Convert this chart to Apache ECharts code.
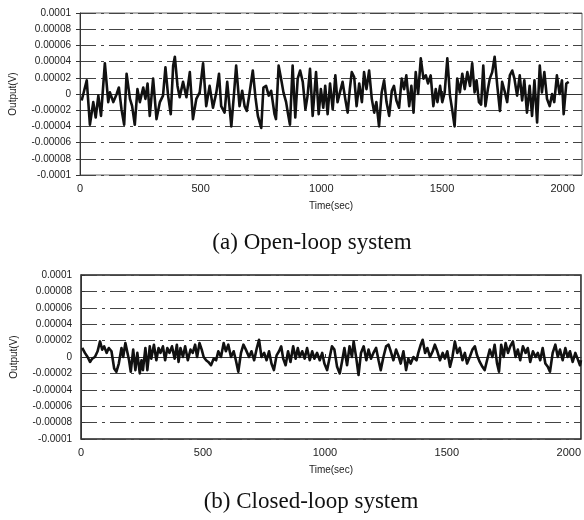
<!DOCTYPE html>
<html>
<head>
<meta charset="utf-8">
<script src="https://cdn.jsdelivr.net/npm/echarts@6/dist/echarts.min.js"></script>
<style>
  html, body { margin: 0; padding: 0; background: #fff; }
  #chart { width: 584px; height: 520px; }
</style>
</head>
<body>
<div id="chart"></div>
<script>
// output values are in units of 1e-5 V (0.00002 V -> 2)
const yTickLabels = ['-0.0001', '-0.00008', '-0.00006', '-0.00004', '-0.00002', '0',
    '0.00002', '0.00004', '0.00006', '0.00008', '0.0001'];
const xTickLabels = ['0', '500', '1000', '1500', '2000'];

// (a) open-loop
const openTime = [7, 28, 41, 55, 65, 76, 87, 103, 117, 124, 138, 152, 161, 172, 183, 193, 207, 216, 227, 238,
    248, 262, 271, 280, 289, 303, 317, 331, 344, 354, 365, 376, 386, 393, 404, 413, 427, 441, 455, 468,
    482, 496, 510, 523, 537, 551, 565, 576, 585, 599, 610, 627, 638, 647, 661, 672, 682, 691, 702, 716,
    727, 737, 751, 760, 771, 782, 792, 806, 812, 823, 833, 843, 854, 861, 870, 881, 892, 902, 912, 923,
    934, 943, 953, 964, 978, 989, 998, 1008, 1016, 1026, 1036, 1047, 1058, 1067, 1077, 1088, 1099, 1109, 1118, 1126,
    1136, 1146, 1157, 1168, 1177, 1187, 1198, 1209, 1219, 1228, 1239, 1250, 1260, 1270, 1281, 1292, 1301, 1311, 1322, 1333,
    1343, 1352, 1364, 1373, 1382, 1391, 1401, 1412, 1423, 1433, 1442, 1453, 1464, 1474, 1481, 1492, 1501, 1511, 1522, 1533,
    1543, 1552, 1563, 1574, 1584, 1594, 1605, 1616, 1625, 1635, 1643, 1653, 1662, 1671, 1680, 1690, 1698, 1708, 1718, 1729,
    1740, 1749, 1759, 1770, 1781, 1791, 1800, 1811, 1822, 1832, 1841, 1852, 1863, 1873, 1883, 1894, 1905, 1914, 1924, 1935,
    1946, 1956, 1965, 1976, 1987, 1997, 2004, 2015, 2025];
const openValue = [-0.8, 1.7, -3.8, -1.0, -2.9, -0.2, -2.7, 3.8, -1.0, 0.2, -1.0, 0, 0.8, -1.9, -3.8, 2.5, -0.6, -1.5, -3.8, 0.6,
    -1.0, 0.8, -0.6, 1.3, -2.7, 1.9, -3.1, -1.0, -0.2, 3.3, -0.2, -2.5, 3.5, 4.6, 1.0, -0.4, 1.5, -0.4, 2.7, -3.1,
    -0.6, 0.2, 3.8, -1.5, 1.0, -1.7, 0.2, 2.5, -1.5, -2.3, 1.5, -4.0, 0, 3.5, -1.5, 0.4, -1.5, -2.1, 0, 2.9,
    -0.4, -2.7, -4.2, 0.8, 1.0, -0.2, 0.4, -2.5, -3.1, 3.5, 1.9, 0.2, -1.0, -2.3, -3.8, 3.5, -2.9, 1.9, 2.9, 1.5,
    -1.9, -0.2, 3.1, -2.7, 2.7, -2.5, 0.6, -1.7, 1.0, -2.5, 1.3, -1.9, 2.3, -1.0, 0.2, 1.5, -0.6, -2.3, 0.6, 2.7,
    2.1, -1.5, 1.3, -1.0, 2.7, 0.6, 2.9, -0.6, -2.3, -1.0, -4.0, 0.2, 1.7, -1.0, -2.7, 0.4, 1.0, -0.8, -1.7, 1.9,
    0.6, 2.3, -1.5, 1.0, -2.3, 2.7, 0, 4.4, 1.9, 2.3, 1.3, 2.3, -1.5, 0.6, -1.0, 1.0, -1.0, 0.2, 4.4, -0.2,
    -2.1, -4.0, 1.9, 0.2, 2.5, 0.6, 2.7, 1.0, 3.8, 0.2, 1.7, -1.0, -1.3, 3.5, -1.5, 0.6, 1.9, 2.7, 4.6, 1.0,
    -2.1, 1.5, 0.4, -1.0, 2.3, 2.9, 1.9, -0.2, 2.3, -0.8, 1.7, -2.3, 1.0, -2.7, 1.7, -3.5, 3.5, 0.2, 2.7, -0.6,
    -1.5, 0, -1.0, 2.3, 0, 1.7, -2.5, 1.3, 1.5];

// (b) closed-loop
const closedTime = [5, 16, 27, 37, 46, 57, 68, 78, 87, 95, 105, 114, 125, 136, 145, 155, 166, 173, 182, 190,
    197, 204, 214, 223, 231, 241, 248, 254, 264, 272, 282, 288, 299, 309, 318, 326, 336, 345, 354, 363,
    373, 384, 393, 400, 408, 418, 427, 438, 449, 458, 468, 476, 486, 495, 503, 513, 522, 533, 544, 554,
    563, 574, 585, 594, 604, 615, 626, 635, 645, 656, 666, 676, 689, 699, 710, 721, 730, 740, 751, 761,
    771, 781, 791, 802, 812, 821, 829, 839, 849, 859, 870, 880, 889, 897, 907, 917, 927, 938, 948, 957,
    968, 979, 989, 998, 1009, 1020, 1029, 1039, 1050, 1061, 1070, 1080, 1091, 1101, 1111, 1118, 1129, 1138, 1148, 1159,
    1170, 1179, 1189, 1199, 1210, 1220, 1229, 1240, 1251, 1261, 1270, 1281, 1292, 1301, 1311, 1322, 1333, 1342, 1352, 1363,
    1376, 1383, 1393, 1401, 1411, 1420, 1431, 1442, 1451, 1461, 1472, 1483, 1492, 1502, 1513, 1523, 1533, 1543, 1553, 1564,
    1574, 1583, 1594, 1605, 1615, 1624, 1635, 1646, 1655, 1665, 1676, 1687, 1696, 1706, 1714, 1723, 1733, 1741, 1751, 1760,
    1771, 1782, 1791, 1801, 1812, 1823, 1832, 1842, 1853, 1864, 1873, 1883, 1893, 1904, 1914, 1923, 1934, 1945, 1955, 1964,
    1975, 1986, 1995, 2005, 2016, 2027, 2036, 2046, 2050];
const closedValue = [1.1, 0.5, 0, -0.6, -0.2, 0, 0.7, 1.9, 0.9, 1.3, 0.5, 1.1, 0.7, -1.4, -1.8, -0.8, 1.1, 0, 1.7, 1.9,
    -0.4, -1.8, 0.9, -1.6, 0.5, -2.0, -0.4, -1.6, 1.1, -1.6, 1.3, -0.2, 1.5, -0.4, 1.1, 0.5, 1.3, -0.4, 1.1, 0.5,
    1.3, -0.2, 1.5, -0.6, 1.1, 0, 1.3, -0.4, 0.9, 0.5, 1.5, 0, 1.7, 0.9, 0, -0.4, -0.6, -1.0, -0.2, -0.4,
    0.7, 0, 1.7, 0.7, 1.5, 0, 0.7, -0.4, -1.8, 0.5, 1.5, 0.9, 0, 0.7, -0.4, 1.1, 2.1, 0, 0.5, -0.4,
    0.7, -0.8, -1.6, 0.2, 0.7, 1.3, -0.2, -1.0, 0.7, -0.6, 1.3, -0.2, 1.1, 0, 0.7, -0.2, 1.1, -0.4, 0.7, -0.2,
    0.5, -0.4, 0.5, -0.8, -1.6, 0, 1.3, 0.9, -1.2, -2.0, -0.6, 1.1, -1.0, 1.3, 0, 1.9, -0.2, -2.2, 0.5, 1.3,
    -0.4, 0.9, -0.2, 0.5, 1.1, -0.4, -1.6, 0, 1.3, 1.5, 0.7, -0.4, 0.9, 0.2, -0.8, 0.7, -1.6, -0.2, -0.8, 0,
    -0.4, 0.5, 1.5, 2.1, 0.5, 1.1, 0, 0.7, 1.5, 0.7, -0.4, 0.5, -0.2, 0.7, -1.2, 0, 1.9, 0.5, 1.1, -0.4,
    0.5, -0.8, 0, 0.9, 1.3, 0.2, -0.6, -1.2, -1.6, -0.4, 0.9, 0, 1.5, -0.8, -1.8, 1.5, 0, 1.7, 0.5, 1.3,
    1.9, 0, 0.9, -0.4, 1.3, 0.5, 1.1, -0.6, 0.7, 0, 0.5, -0.4, 1.1, -0.8, -1.2, -1.8, 0.5, 1.5, 0, 0.9,
    -0.4, 1.1, 0, 0.7, -0.6, 0.5, -0.2, -1.0, -0.4];

const zip = (xs, ys) => xs.map((x, i) => [x, ys[i]]);

const sans = 'Liberation Sans';
const gridDash = [16, 5, 3, 5];

function yAxisFor(gridIndex, tickInside) {
    return {
        type: 'value',
        gridIndex,
        min: -10,
        max: 10,
        interval: 2,
        name: 'Output(V)',
        nameLocation: 'middle',
        nameGap: 62,
        nameTextStyle: {fontFamily: sans, fontSize: 10, color: '#222'},
        axisLine: {show: true, lineStyle: {color: '#333'}},
        axisTick: {show: true, inside: tickInside, length: 4, lineStyle: {color: '#333'}},
        axisLabel: {
            fontFamily: sans, fontSize: 10, color: '#222', margin: 9,
            formatter: v => yTickLabels[Math.round((v + 10) / 2)],
        },
        splitLine: {show: true, lineStyle: {color: '#444', width: 1, type: gridDash}},
    };
}

function xAxisFor(gridIndex, max) {
    return {
        type: 'value',
        gridIndex,
        min: 0,
        max,
        interval: 500,
        name: 'Time(sec)',
        nameLocation: 'middle',
        nameGap: 26,
        nameTextStyle: {fontFamily: sans, fontSize: 10, color: '#222'},
        axisLine: {show: true, lineStyle: {color: '#333'}},
        axisTick: {show: true, inside: true, length: 3, lineStyle: {color: '#333'}},
        axisLabel: {
            fontFamily: sans, fontSize: 11, color: '#222', margin: 8,
            showMaxLabel: false,
            formatter: v => xTickLabels[Math.round(v / 500)] || '',
        },
        splitLine: {show: false},
    };
}

option = {
    backgroundColor: '#fff',
    animation: false,
    grid: [
        {left: 80, right: 2, top: 13, height: 162, show: true, borderColor: '#666', borderWidth: 1},
        {left: 81, right: 0, top: 275, height: 164, show: true, borderColor: '#222', borderWidth: 1.5},
    ],
    xAxis: [xAxisFor(0, 2080), xAxisFor(1, 2050)],
    yAxis: [yAxisFor(0, false), yAxisFor(1, true)],
    series: [
        {
            name: 'Open-loop',
            type: 'line',
            xAxisIndex: 0,
            yAxisIndex: 0,
            showSymbol: false,
            lineStyle: {color: '#111', width: 2.6, join: 'round'},
            data: zip(openTime, openValue),
        },
        {
            name: 'Closed-loop',
            type: 'line',
            xAxisIndex: 1,
            yAxisIndex: 1,
            showSymbol: false,
            lineStyle: {color: '#111', width: 2.6, join: 'round'},
            data: zip(closedTime, closedValue),
        },
    ],
    graphic: [
        {
            type: 'text', x: 312, y: 243,
            style: {text: '(a) Open-loop system', font: '23px "Liberation Serif"', fill: '#111',
                textAlign: 'center', textVerticalAlign: 'middle'},
        },
        {
            type: 'text', x: 311, y: 502,
            style: {text: '(b) Closed-loop system', font: '23px "Liberation Serif"', fill: '#111',
                textAlign: 'center', textVerticalAlign: 'middle'},
        },
    ],
};

dom = document.getElementById('chart');
chart = echarts.init(dom);
chart.setOption(option);
</script>
</body>
</html>
